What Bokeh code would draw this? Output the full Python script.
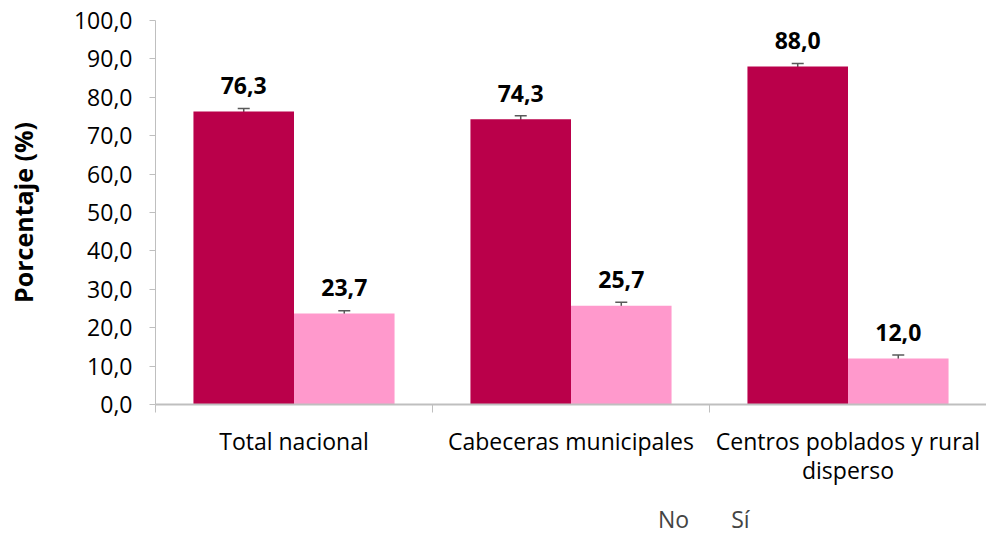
from bokeh.plotting import figure
from bokeh.layouts import column
from bokeh.models import (ColumnDataSource, FixedTicker, Whisker, TeeHead, Legend,
                          LegendItem, Range1d, LinearAxis)
from bokeh.core.properties import value
from bokeh.embed import file_html
from bokeh.resources import INLINE

categories = ["Total nacional", "Cabeceras municipales", "Centros poblados y rural\ndisperso"]
series_names = ["No", "Sí"]
no_values = [76.3, 74.3, 88.0]
si_values = [23.7, 25.7, 12.0]
no_err = [0.8, 0.9, 0.8]
si_err = [0.7, 0.9, 0.9]
yticks = [0, 10, 20, 30, 40, 50, 60, 70, 80, 90, 100]
ytick_labels = ["0,0", "10,0", "20,0", "30,0", "40,0", "50,0", "60,0", "70,0", "80,0", "90,0", "100,0"]

FONT = "Open Sans"
NO_COLOR = "#BA004A"
SI_COLOR = "#FF99CC"
AXIS_COLOR = "#BFBFBF"

n = len(categories)
centers = [i + 0.5 for i in range(n)]
bw = 0.363
no_x = [c - bw / 2 for c in centers]
si_x = [c + bw / 2 for c in centers]
first_lines = {c: lab.split("\n")[0] for c, lab in zip(centers, categories)}
second_lines = {c: lab.split("\n")[1] for c, lab in zip(centers, categories) if "\n" in lab}

def fmt(v):
    return f"{v:.1f}".replace(".", ",")

no_src = ColumnDataSource(dict(x=no_x, top=no_values, lo=[v - e for v, e in zip(no_values, no_err)],
                               hi=[v + e for v, e in zip(no_values, no_err)],
                               lab=[fmt(v) for v in no_values]))
si_src = ColumnDataSource(dict(x=si_x, top=si_values, lo=[v - e for v, e in zip(si_values, si_err)],
                               hi=[v + e for v, e in zip(si_values, si_err)],
                               lab=[fmt(v) for v in si_values]))

p = figure(frame_width=831, frame_height=384, output_backend="svg", toolbar_location=None,
           x_range=Range1d(0, n), y_range=Range1d(0, 100),
           min_border_left=155, min_border_right=0, min_border_top=20, min_border_bottom=101)
p.outline_line_color = None
p.grid.visible = False
p.background_fill_color = "white"
p.border_fill_color = "white"

r_no = p.vbar(x="x", top="top", width=bw, bottom=0, source=no_src, fill_color=NO_COLOR, line_color=None)
r_si = p.vbar(x="x", top="top", width=bw, bottom=0, source=si_src, fill_color=SI_COLOR, line_color=None)

for src in (no_src, si_src):
    w = Whisker(source=src, base="x", upper="hi", lower="lo", line_color="#595959", line_width=1.5,
                upper_head=TeeHead(size=12, line_color="#595959", line_width=1.5),
                lower_head=TeeHead(size=12, line_color="#595959", line_width=1.5))
    p.add_layout(w)
    p.text(x="x", y="top", text="lab", source=src, y_offset=-26, text_align="center",
           text_baseline="middle", text_font=value(FONT), text_font_style="bold",
           text_font_size="23px", text_color="black")

# y axis
yax = p.yaxis[0]
yax.ticker = FixedTicker(ticks=yticks)
yax.major_label_overrides = {t: l for t, l in zip(yticks, ytick_labels)}
yax.axis_label = "Porcentaje (%)"
yax.axis_label_text_font = FONT
yax.axis_label_text_font_style = "bold"
yax.axis_label_text_font_size = "25px"
yax.axis_label_text_color = "black"
yax.axis_label_standoff = 31
yax.major_label_text_font = FONT
yax.major_label_text_font_size = "23px"
yax.major_label_text_color = "black"
yax.major_label_standoff = 17
yax.axis_line_color = AXIS_COLOR
yax.major_tick_line_color = AXIS_COLOR
yax.major_tick_out = 6
yax.major_tick_in = 0
yax.minor_tick_line_color = None

# x axis (first label line)
xax = p.xaxis[0]
xax.ticker = FixedTicker(ticks=centers, minor_ticks=list(range(n + 1)))
xax.major_label_overrides = first_lines
xax.major_label_text_font = FONT
xax.major_label_text_font_size = "23px"
xax.major_label_text_color = "black"
xax.major_label_standoff = 12
xax.axis_line_color = AXIS_COLOR
xax.axis_line_width = 2
xax.major_tick_line_color = None
xax.major_tick_out = 8
xax.minor_tick_line_color = AXIS_COLOR
xax.minor_tick_out = 8
xax.minor_tick_in = 0

# second line of wrapped category labels
xax2 = LinearAxis(ticker=FixedTicker(ticks=list(second_lines.keys())),
                  major_label_overrides=second_lines,
                  major_label_text_font=FONT, major_label_text_font_size="23px",
                  major_label_text_color="black", major_label_standoff=-6,
                  axis_line_color=None, major_tick_line_color=None, minor_tick_line_color=None,
                  major_tick_out=0, major_tick_in=0, minor_tick_out=0, minor_tick_in=0)
p.add_layout(xax2, "below")

# legend in its own strip below the chart
lg = figure(width=986, height=30, output_backend="svg", toolbar_location=None,
            x_range=Range1d(0, 1), y_range=Range1d(0, 1),
            x_axis_location=None, y_axis_location=None, min_border=0)
lg.outline_line_color = None
lg.grid.visible = False
lg.background_fill_color = "white"
lg.border_fill_color = "white"
d_no = lg.vbar(x=[], top=[], width=0.1, fill_color=NO_COLOR, line_color=None)
d_si = lg.vbar(x=[], top=[], width=0.1, fill_color=SI_COLOR, line_color=None)
legend = Legend(items=[LegendItem(label=series_names[0], renderers=[d_no]),
                       LegendItem(label=series_names[1], renderers=[d_si])],
                orientation="horizontal", location=(483, 0), border_line_color=None,
                background_fill_alpha=0, label_text_font=FONT, label_text_font_size="23px",
                label_height=14, glyph_width=14, glyph_height=14, label_standoff=6, spacing=22,
                padding=0, margin=0)
lg.add_layout(legend, "center")

layout = column(p, lg, spacing=0)
open("out.html", "w").write(file_html(layout, INLINE))
